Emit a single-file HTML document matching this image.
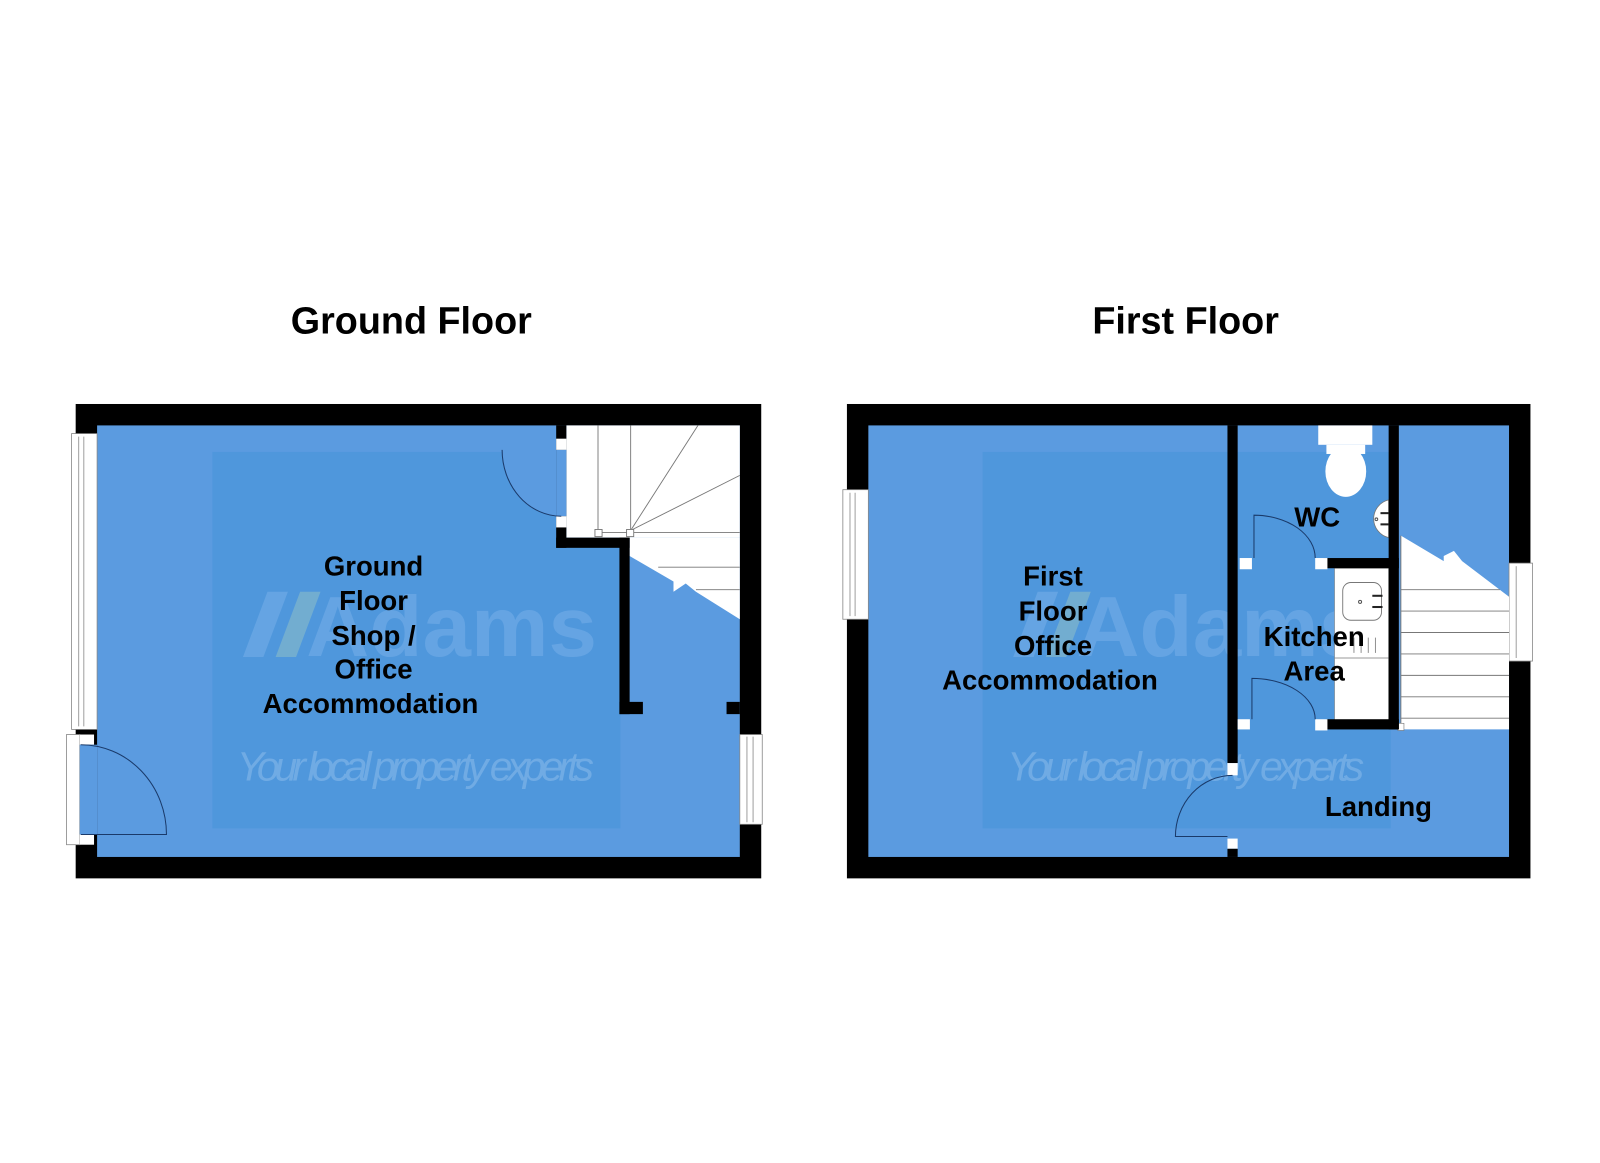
<!DOCTYPE html>
<html><head><meta charset="utf-8"><style>
html,body{margin:0;padding:0;background:#fff;}
svg{display:block;}
text{font-family:"Liberation Sans",sans-serif;}
</style></head><body>
<svg width="1600" height="1163" viewBox="0 0 1568 1140" xmlns="http://www.w3.org/2000/svg">
<rect width="1568" height="1140" fill="#fff"/>
<text x="403" y="327" font-size="37" font-weight="bold" text-anchor="middle">Ground Floor</text>
<text x="1162" y="327" font-size="37" font-weight="bold" text-anchor="middle">First Floor</text>

<!-- GROUND FLOOR -->
<rect x="74" y="396" width="672" height="465" fill="#000"/>
<rect x="95" y="417" width="630" height="423" fill="#5b9be0"/>
<rect x="208" y="443" width="400" height="369" fill="#4f97dc"/>
<g opacity="0.55">
<polygon points="238,644 262,580 282,580 258,644" fill="#78b0ea"/>
<polygon points="270,644 294,580 314,580 290,644" fill="#8fc0c8"/>
<text x="300" y="643" font-size="84" font-weight="bold" fill="#78b0ea" textLength="285" lengthAdjust="spacingAndGlyphs">Adams</text>
<text x="232" y="765" font-size="40" fill="#8cbcec" font-family="DejaVu Sans,sans-serif" font-style="italic" textLength="350">Your local property experts</text>
</g>
<rect x="70" y="425" width="25" height="290" fill="#fff" stroke="#888" stroke-width="0.8"/>
<line x1="77" y1="428" x2="77" y2="712" stroke="#888" stroke-width="0.8"/>
<line x1="82" y1="428" x2="82" y2="712" stroke="#888" stroke-width="0.8"/>
<rect x="65" y="720" width="13" height="108" fill="#fff" stroke="#888" stroke-width="0.8"/>
<rect x="78" y="720" width="14" height="10" fill="#fff"/>
<rect x="78" y="818" width="14" height="10" fill="#fff"/>
<rect x="78" y="730" width="17" height="88" fill="#5b9be0"/>
<path d="M79,818 L163,818 A84,88 0 0 0 79,730" fill="none" stroke="#1a3a6a" stroke-width="1"/>
<rect x="725" y="720" width="22" height="88" fill="#fff" stroke="#888" stroke-width="0.8"/>
<line x1="732" y1="722" x2="732" y2="806" stroke="#888" stroke-width="0.8"/>
<line x1="738" y1="722" x2="738" y2="806" stroke="#888" stroke-width="0.8"/>
<!-- stairs -->
<rect x="555" y="417" width="170" height="110" fill="#fff"/>
<polygon points="617,527 725,527 725,607 682,580 672,572 660,580 660,570 617,545" fill="#fff"/>
<g stroke="#777" stroke-width="0.9" fill="none">
<line x1="586" y1="417" x2="586" y2="520"/><line x1="618" y1="417" x2="618" y2="520"/>
<line x1="618" y1="520" x2="684" y2="417"/><line x1="618" y1="520" x2="725" y2="466"/>
<line x1="618" y1="522" x2="725" y2="522"/>
<line x1="645" y1="556" x2="725" y2="556"/><line x1="682" y1="578" x2="725" y2="578"/>
<rect x="583" y="519" width="7" height="7" fill="#fff"/><rect x="614" y="519" width="7" height="7" fill="#fff"/>
<line x1="590" y1="522" x2="614" y2="522"/>
</g>
<rect x="545" y="417" width="10" height="120" fill="#000"/>
<rect x="545" y="430" width="10" height="11" fill="#fff"/>
<rect x="545" y="441" width="10" height="65" fill="#5b9be0"/>
<rect x="545" y="506" width="10" height="11" fill="#fff"/>
<rect x="545" y="527" width="72" height="10" fill="#000"/>
<rect x="607" y="527" width="10" height="173" fill="#000"/>
<rect x="607" y="688" width="23" height="12" fill="#000"/>
<rect x="712" y="688" width="13" height="12" fill="#000"/>
<path d="M492,441 L545,441 L545,506 A58,65 0 0 1 492,441" fill="#5b9be0"/>
<path d="M492,441 A58,65 0 0 0 550,506" fill="none" stroke="#1a3a6a" stroke-width="1"/>
<g font-size="27" font-weight="bold" text-anchor="middle">
<text x="366" y="564">Ground</text><text x="366" y="598">Floor</text><text x="366" y="632">Shop /</text>
<text x="366" y="665">Office</text><text x="363" y="699">Accommodation</text>
</g>

<!-- FIRST FLOOR -->
<rect x="830" y="396" width="670" height="465" fill="#000"/>
<rect x="851" y="417" width="628" height="423" fill="#5b9be0"/>
<rect x="963" y="443" width="400" height="369" fill="#4f97dc"/>
<g opacity="0.55">
<polygon points="993,644 1017,580 1037,580 1013,644" fill="#78b0ea"/>
<polygon points="1025,644 1049,580 1069,580 1045,644" fill="#8fc0c8"/>
<text x="1055" y="643" font-size="84" font-weight="bold" fill="#78b0ea" textLength="285" lengthAdjust="spacingAndGlyphs">Adams</text>
<text x="987" y="765" font-size="40" fill="#8cbcec" font-family="DejaVu Sans,sans-serif" font-style="italic" textLength="350">Your local property experts</text>
</g>
<rect x="826" y="480" width="25" height="127" fill="#fff" stroke="#888" stroke-width="0.8"/>
<line x1="833" y1="483" x2="833" y2="604" stroke="#888" stroke-width="0.8"/>
<line x1="838" y1="483" x2="838" y2="604" stroke="#888" stroke-width="0.8"/>
<rect x="1479" y="552" width="23" height="96" fill="#fff" stroke="#888" stroke-width="0.8"/>
<line x1="1486" y1="555" x2="1486" y2="645" stroke="#888" stroke-width="0.8"/>
<!-- kitchen counter -->
<rect x="1308" y="557" width="53" height="150" fill="#fff" stroke="#888" stroke-width="0.6"/>
<rect x="1316" y="571" width="38" height="37" rx="8" fill="#fff" stroke="#777" stroke-width="0.9"/>
<circle cx="1333" cy="590" r="1.5" fill="none" stroke="#555"/>
<g fill="#222"><rect x="1345" y="583" width="10" height="2"/><rect x="1345" y="594" width="10" height="2"/></g>
<g stroke="#777" stroke-width="0.8"><line x1="1327" y1="625" x2="1327" y2="640"/><line x1="1334" y1="625" x2="1334" y2="640"/><line x1="1341" y1="625" x2="1341" y2="640"/><line x1="1348" y1="625" x2="1348" y2="640"/><line x1="1308" y1="645" x2="1361" y2="645"/></g>
<!-- stairs -->
<polygon points="1373,525 1415,550 1415,545 1425,540 1433,550 1479,585 1479,715 1373,715" fill="#fff"/>
<g stroke="#777" stroke-width="0.9">
<line x1="1373" y1="525" x2="1373" y2="715"/>
<line x1="1373" y1="578" x2="1470" y2="578"/>
<line x1="1373" y1="599" x2="1479" y2="599"/><line x1="1373" y1="620" x2="1479" y2="620"/>
<line x1="1373" y1="641" x2="1479" y2="641"/><line x1="1373" y1="662" x2="1479" y2="662"/>
<line x1="1373" y1="683" x2="1479" y2="683"/><line x1="1373" y1="704" x2="1479" y2="704"/>
</g>
<rect x="1370" y="709" width="6" height="7" fill="#fff" stroke="#777" stroke-width="0.6"/>
<!-- toilet -->
<rect x="1292" y="417" width="53" height="19" fill="#fff"/>
<rect x="1300" y="436" width="38" height="9" fill="#fff"/>
<ellipse cx="1319" cy="462" rx="20" ry="25" fill="#fff"/>
<path d="M1361,490 A19,19 0 0 0 1361,527 Z" fill="#fff" stroke="#777" stroke-width="0.8"/>
<circle cx="1349" cy="509" r="1.3" fill="none" stroke="#555"/>
<g fill="#222"><rect x="1353" y="502" width="8" height="2"/><rect x="1353" y="513" width="8" height="2"/></g>
<!-- walls -->
<rect x="1203" y="417" width="10" height="331" fill="#000"/>
<rect x="1203" y="748" width="10" height="12" fill="#fff"/>
<rect x="1203" y="822" width="10" height="10" fill="#fff"/>
<rect x="1203" y="832" width="10" height="8" fill="#000"/>
<rect x="1361" y="417" width="10" height="298" fill="#000"/>
<rect x="1297" y="547" width="74" height="10" fill="#000"/>
<rect x="1215" y="547" width="12" height="11" fill="#fff"/>
<rect x="1289" y="547" width="12" height="11" fill="#fff"/>
<rect x="1300" y="705" width="71" height="10" fill="#000"/>
<rect x="1213" y="705" width="12" height="10" fill="#fff"/>
<rect x="1289" y="705" width="12" height="11" fill="#fff"/>
<g fill="none" stroke="#1a3a6a" stroke-width="1">
<path d="M1229,547 L1229,505 A60,42 0 0 1 1289,547"/>
<path d="M1227,705 L1227,665 A62,40 0 0 1 1289,705"/>
<path d="M1208,760 A56,60 0 0 0 1152,820 L1203,820"/>
</g>
<g font-size="27" font-weight="bold" text-anchor="middle">
<text x="1032" y="574">First</text><text x="1032" y="608">Floor</text><text x="1032" y="642">Office</text>
<text x="1029" y="676">Accommodation</text>
<text x="1291" y="516">WC</text>
<text x="1288" y="633">Kitchen</text><text x="1288" y="667">Area</text>
<text x="1351" y="800">Landing</text>
</g>
</svg>
</body></html>
